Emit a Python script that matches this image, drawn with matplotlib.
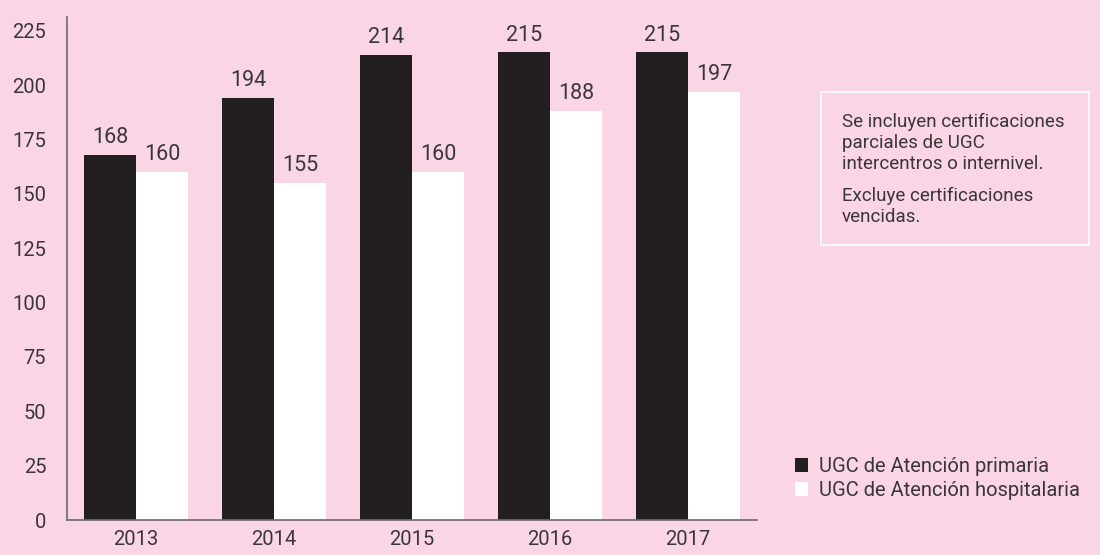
import matplotlib
matplotlib.use("Agg")
import matplotlib.pyplot as plt
from matplotlib.patches import Patch, Rectangle
import numpy as np

years = ["2013", "2014", "2015", "2016", "2017"]
primaria = [168, 194, 214, 215, 215]
hospitalaria = [160, 155, 160, 188, 197]
yticks = [0, 25, 50, 75, 100, 125, 150, 175, 200, 225]
series_names = ["UGC de Atención primaria", "UGC de Atención hospitalaria"]
note_1 = "Se incluyen certificaciones\nparciales de UGC\nintercentros o internivel."
note_2 = "Excluye certificaciones\nvencidas."

BG = "#f9d5e6"
DARK = "#231f20"
TXT = "#3a3638"
plt.rcParams["font.family"] = ["Roboto", "DejaVu Sans"]

fig = plt.figure(figsize=(11, 5.55), dpi=100, facecolor=BG)
ax = fig.add_axes([67 / 1100, 35 / 555, 690 / 1100, 503 / 555])
ax.set_facecolor(BG)

x = np.arange(len(years))
w = 0.376
b1 = ax.bar(x - w / 2, primaria, w, color=DARK, label=series_names[0])
b2 = ax.bar(x + w / 2, hospitalaria, w, color="white", label=series_names[1])
for bars in (b1, b2):
    ax.bar_label(bars, padding=5, fontsize=15.5, color=TXT)

ax.set_xlim(-0.5, 4.5)
ax.set_ylim(0, 231.3)
ax.set_yticks(yticks)
ax.set_xticks(x)
ax.set_xticklabels(years)
ax.tick_params(axis="both", length=0, labelsize=14.5, labelcolor=TXT)
ax.tick_params(axis="y", pad=15)
ax.tick_params(axis="x", pad=7)
for s in ("top", "right"):
    ax.spines[s].set_visible(False)
for s in ("left", "bottom"):
    ax.spines[s].set_color("#6d6a6b")
    ax.spines[s].set_linewidth(1.2)

# note box
fig.patches.append(Rectangle((821 / 1100, 1 - 245 / 555), 268 / 1100, 153 / 555,
                             transform=fig.transFigure, facecolor="none",
                             edgecolor="white", linewidth=1.2))
fig.text(842 / 1100, 1 - 113 / 555, note_1, fontsize=13.5, color=TXT,
         va="top", ha="left", linespacing=1.2)
fig.text(842 / 1100, 1 - 187 / 555, note_2, fontsize=13.5, color=TXT,
         va="top", ha="left", linespacing=1.2)

handles = [Patch(facecolor=DARK, edgecolor="none"), Patch(facecolor="white", edgecolor="none")]
fig.legend(handles, series_names, loc="upper left",
           bbox_to_anchor=(795 / 1100, 1 - 457 / 555), frameon=False,
           fontsize=14.5, labelcolor=TXT, handlelength=0.66, handleheight=0.66,
           handletextpad=0.55, labelspacing=0.25, borderpad=0, borderaxespad=0)

fig.savefig("out.png", dpi=100, facecolor=BG)
